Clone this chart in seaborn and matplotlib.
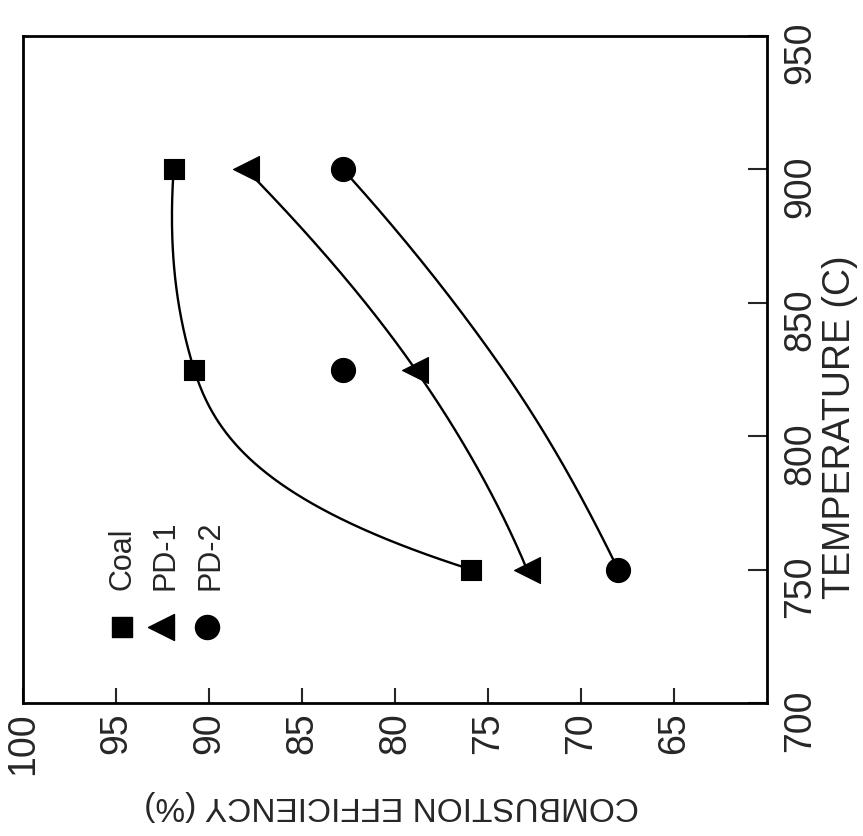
import numpy as np
import pandas as pd
import matplotlib
matplotlib.use("Agg")
import matplotlib.pyplot as plt
import seaborn as sns

# ---- data read from the (rotated) reference picture ----
series_names = ["Coal", "PD-1", "PD-2"]
temperature = [750, 825, 900]            # deg C
coal = [75.9, 90.8, 91.9]                # combustion efficiency, %
pd1 = [72.9, 78.9, 88.0]
pd2 = [68.0, 82.8, 82.8]

# hand-drawn trend curves: knot values (%) and slopes (% per deg C)
coal_fit = [75.9, 90.8, 91.9]
coal_slope = [0.45, 0.045, -0.01]
pd1_fit = [72.9, 78.9, 88.0]
pd1_slope = [0.06, 0.10, 0.14]
pd2_fit = [68.0, 74.2, 82.8]
pd2_slope = [0.07, 0.10, 0.13]

eff_ticks = [100, 95, 90, 85, 80, 75, 70, 65]
temp_ticks = [700, 750, 800, 850, 900, 950]

x_label = "TEMPERATURE (C)"
y_label = "COMBUSTION EFFICIENCY (%)"


def hermite_curve(xk, yk, mk, n=80):
    xs, ys = [], []
    for i in range(len(xk) - 1):
        h = xk[i + 1] - xk[i]
        s = np.linspace(0, 1, n)
        h00 = 2 * s**3 - 3 * s**2 + 1
        h10 = s**3 - 2 * s**2 + s
        h01 = -2 * s**3 + 3 * s**2
        h11 = s**3 - s**2
        ys.append(h00 * yk[i] + h10 * h * mk[i] + h01 * yk[i + 1] + h11 * h * mk[i + 1])
        xs.append(xk[i] + s * h)
    return np.concatenate(xs), np.concatenate(ys)


sns.set_style("ticks")
plt.rcParams["font.family"] = ["Liberation Sans", "DejaVu Sans"]

fig = plt.figure(figsize=(8.63, 8.36), dpi=100)
ax = fig.add_axes([23 / 863, 1 - 703 / 836, 744 / 863, 667 / 836])

# curves
for fit, slope in [(coal_fit, coal_slope), (pd1_fit, pd1_slope), (pd2_fit, pd2_slope)]:
    t_c, e_c = hermite_curve(temperature, fit, slope)
    sns.lineplot(x=e_c, y=t_c, sort=False, estimator=None, color="black",
                 linewidth=1.7, ax=ax)

# points
markers = {"Coal": ("s", 225), "PD-1": ("<", 350), "PD-2": ("o", 300)}
for name, vals in zip(series_names, [coal, pd1, pd2]):
    m, s = markers[name]
    sns.scatterplot(x=vals, y=temperature, marker=m, s=s, color="black",
                    edgecolor="black", linewidth=0.8, ax=ax, zorder=5)

ax.set_xlim(100, 60)
ax.set_ylim(700, 950)
ax.set_xticks(eff_ticks)
ax.set_yticks(temp_ticks)
ax.yaxis.tick_right()
ax.tick_params(axis="y", which="both", left=False, right=True, direction="in",
               length=14, width=1.5, labelsize=27, pad=11, labelrotation=90)
ax.tick_params(axis="x", which="both", top=False, bottom=True, direction="in",
               length=11, width=1.5, labelsize=27, pad=7, labelrotation=90)
for sp in ax.spines.values():
    sp.set_visible(True)
    sp.set_linewidth(2.0)
    sp.set_color("black")

ax.yaxis.set_label_position("right")
ax.set_ylabel(x_label, fontsize=27, rotation=90, va="center")
ax.yaxis.set_label_coords(1.098, 0.414)
ax.set_xlabel(y_label, fontsize=24, rotation=180, va="center")
ax.xaxis.set_label_coords(0.496, -0.154)

# legend drawn as in the reference (rotated text)
leg_mx = [0.133, 0.185, 0.247]
leg_tx = [0.134, 0.191, 0.252]
for name, mx, tx in zip(series_names, leg_mx, leg_tx):
    m, s = markers[name]
    ax.scatter([mx], [0.114], marker=m, s=s, color="black", transform=ax.transAxes,
               zorder=5, clip_on=False)
    ax.text(tx, 0.169, name, rotation=90, ha="center", va="bottom", fontsize=22,
            transform=ax.transAxes)

fig.savefig("out.png", dpi=100)
